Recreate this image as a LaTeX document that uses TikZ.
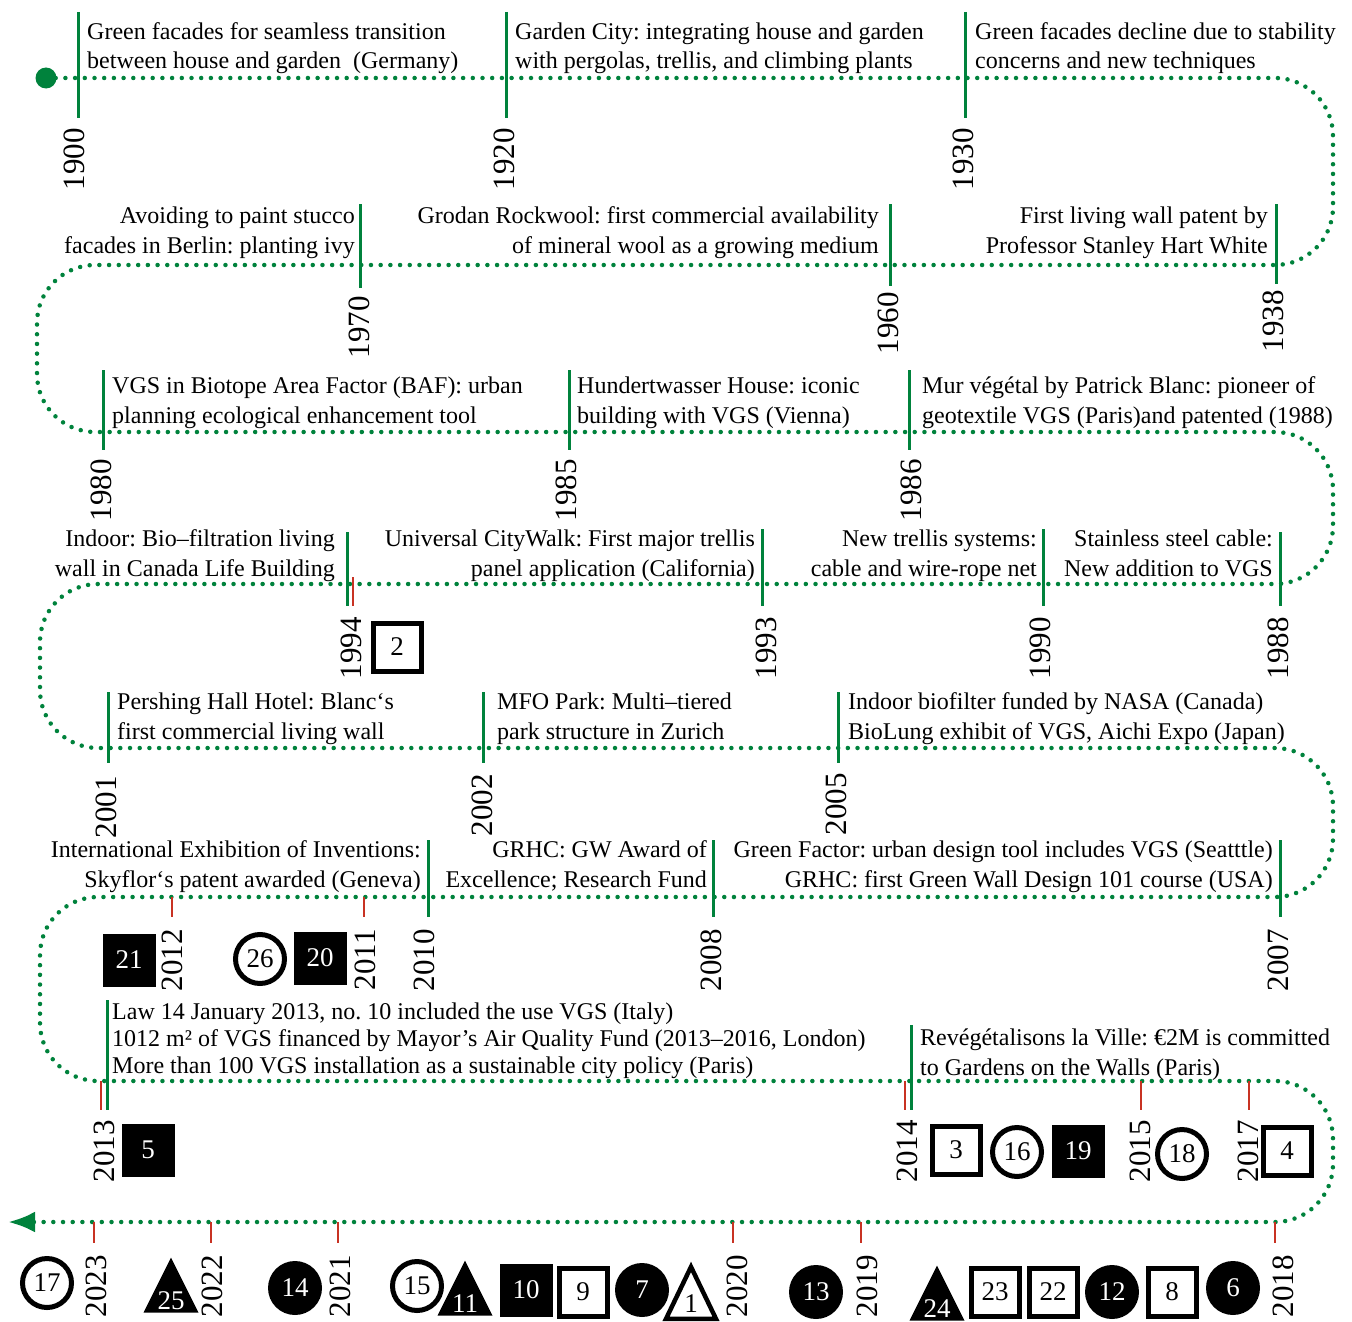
\documentclass[tikz,border=0pt]{standalone}
\usepackage{fontspec}
\setmainfont{Liberation Serif}
\usetikzlibrary{arrows.meta, shapes.geometric}

\definecolor{vgsgreen}{RGB}{0,130,60}
\definecolor{tickred}{RGB}{200,50,35}

\begin{document}
\frenchspacing
\begin{tikzpicture}[
            x = 1pt, y = -1pt, % pixel grid, y runs downwards
            > = {Latex[length=27pt, width=21pt]}, % arrow head style
            inner sep = 0pt
        ]

        \tikzstyle{dots}=[
            vgsgreen,
            line width = 4.5pt,
            line cap = round,
            dash pattern = on 0pt off 9.7pt,
            rounded corners = 58pt
        ]
        \tikzstyle{gtick}=[vgsgreen, line width = 3pt]
        \tikzstyle{rtick}=[tickred, line width = 2.5pt]
        \tikzstyle{yearlab}=[rotate = 90, anchor = east, font = \fontsize{31}{31}\selectfont]
        % base of a text block = base line of its last line
        \tikzstyle{evR}=[anchor = base west, align = left, font = \fontsize{24}{29.5}\selectfont]
        \tikzstyle{evL}=[anchor = base east, align = right, font = \fontsize{24}{29.5}\selectfont]
        \tikzstyle{num}=[font = \fontsize{27}{27}\selectfont]
        \tikzstyle{sqbox}=[num, draw, line width = 5pt, minimum size = 48pt]
        \tikzstyle{fsqbox}=[num, fill, text = white, minimum size = 53pt]
        \tikzstyle{ring}=[num, circle, draw, line width = 5pt, minimum size = 49pt]
        \tikzstyle{disc}=[num, circle, fill, text = white, minimum size = 54pt]
        \tikzstyle{ftri}=[num, isosceles triangle, shape border rotate = 90,
            isosceles triangle stretches, fill, text = white,
            minimum width = 55pt, minimum height = 55pt, anchor = apex]
        \tikzstyle{tri}=[num, isosceles triangle, shape border rotate = 90,
            isosceles triangle stretches, draw, line width = 4.5pt,
            minimum width = 50pt, minimum height = 52pt, anchor = apex]

        \useasboundingbox (0,0) rectangle (1352,1322);

        % the winding time line
        \node[circle, fill = vgsgreen, minimum size = 21pt] (start) at (46,78) {};
        \coordinate (tip) at (8,1222);
        \draw[dots, ->] (start.center) -- (1333,78) -- (1333,265) -- (37,265)
            -- (37,432) -- (1333,432) -- (1333,584) -- (40,584) -- (40,748)
            -- (1333,748) -- (1333,897) -- (40,897) -- (40,1081) -- (1333,1081)
            -- (1333,1222) -- (tip);

        % green ticks with an event
        \foreach \x/\ya/\yb in {78/12/118, 506/12/118, 965/12/118,
                360/204/288, 890/204/286, 1276/204/284,
                103/370/450, 569/370/450, 909/370/450,
                347/532/606, 762/529/606, 1043/529/606, 1280/532/606,
                108/692/763, 483/692/763, 838/692/763,
                428/840/917, 713/840/917, 1280/840/917,
                107/1000/1110, 911/1025/1110}
            \draw[gtick] (\x,\ya) -- (\x,\yb);

        % red ticks for the numbered projects
        \foreach \x/\ya/\yb in {353/577/606, 172/897/917, 364/897/917,
                101/1081/1110, 905/1081/1110, 1141/1081/1110, 1249/1081/1110,
                94/1222/1243, 211/1222/1243, 338/1222/1243, 733/1222/1243,
                861/1222/1243, 1275/1222/1243}
            \draw[rtick] (\x,\ya) -- (\x,\yb);

        % years
        \foreach \yr/\x/\y in {1900/74/128, 1920/504/128, 1930/963/128,
                1970/359/296, 1960/888/292, 1938/1273/290,
                1980/101/459, 1985/566/459, 1986/911/459,
                1994/351/617, 1993/766/617, 1990/1040/617, 1988/1278/617,
                2001/106/776, 2002/482/774, 2005/836/773,
                2012/172/929, 2011/365/929, 2010/424/929, 2008/711/929, 2007/1278/929,
                2013/104/1120, 2014/907/1120, 2015/1140/1120, 2017/1248/1120,
                2023/96/1255, 2022/212/1255, 2021/340/1255, 2020/737/1255,
                2019/867/1255, 2018/1283/1255}
            \node[yearlab] (y\yr) at (\x,\y) {\yr};

        % events
        \node[evR] (e1900) at (87,69) {Green facades for seamless transition\\between house and garden~ (Germany)};
        \node[evR] (e1920) at (515,69) {Garden City: integrating house and garden\\with pergolas, trellis, and climbing plants};
        \node[evR] (e1930) at (975,69) {Green facades decline due to stability\\concerns and new techniques};

        \node[evL] (e1970) at (355,253) {Avoiding to paint stucco\\facades in Berlin: planting ivy};
        \node[evL] (e1960) at (879,253) {Grodan Rockwool: first commercial availability\\of mineral wool as a growing medium};
        \node[evL] (e1938) at (1268,253) {First living wall patent by\\Professor Stanley Hart White};

        \node[evR] (e1980) at (112,423) {VGS in Biotope Area Factor (BAF): urban\\planning ecological enhancement tool};
        \node[evR] (e1985) at (577,423) {Hundertwasser House: iconic\\building with VGS (Vienna)};
        \node[evR] (e1986) at (922,423) {Mur végétal by Patrick Blanc: pioneer of\\geotextile VGS (Paris)and patented (1988)};

        \node[evL] (e1994) at (335,576) {Indoor: Bio–filtration living\\wall in Canada Life Building};
        \node[evL] (e1993) at (755,576) {Universal CityWalk: First major trellis\\panel application (California)};
        \node[evL] (e1990) at (1037,576) {New trellis systems:\\cable and wire-rope net};
        \node[evL] (e1988) at (1273,576) {Stainless steel cable:\\New addition to VGS};

        \node[evR] (e2001) at (117,739) {Pershing Hall Hotel: Blanc‘s\\first commercial living wall};
        \node[evR] (e2002) at (497,739) {MFO Park: Multi–tiered\\park structure in Zurich};
        \node[evR] (e2005) at (848,739) {Indoor biofilter funded by NASA (Canada)\\BioLung exhibit of VGS, Aichi Expo (Japan)};

        \node[evL] (e2010) at (421,887) {International Exhibition of Inventions:\\Skyflor‘s patent awarded (Geneva)};
        \node[evL] (e2008) at (707,887) {GRHC: GW Award of\\Excellence; Research Fund};
        \node[evL] (e2007) at (1273,887) {Green Factor: urban design tool includes VGS (Seatttle)\\GRHC: first Green Wall Design 101 course (USA)};

        \node[evR, font = \fontsize{24}{27}\selectfont] (e2013) at (112,1073) {Law 14 January 2013, no. 10 included the use VGS (Italy)\\1012 m² of VGS financed by Mayor’s Air Quality Fund (2013–2016, London)\\More than 100 VGS installation as a sustainable city policy (Paris)};
        \node[evR] (e2014) at (920,1075) {Revégétalisons la Ville: €2M is committed\\to Gardens on the Walls (Paris)};

        % numbered projects
        \node[sqbox] (m2) at (397,647) {2};
        \node[fsqbox] (m21) at (129,960) {21};
        \node[ring] (m26) at (260,959) {26};
        \node[fsqbox] (m20) at (320,958) {20};
        \node[fsqbox] (m5) at (148,1150) {5};
        \node[sqbox] (m3) at (956,1150) {3};
        \node[ring] (m16) at (1017,1152) {16};
        \node[fsqbox] (m19) at (1078,1151) {19};
        \node[ring] (m18) at (1182,1154) {18};
        \node[sqbox] (m4) at (1287,1151) {4};
        \node[ring] (m17) at (47,1283) {17};
        \node[ftri] (m25) at (171,1257) {25};
        \node[disc] (m14) at (295,1288) {14};
        \node[ring] (m15) at (417,1286) {15};
        \node[ftri] (m11) at (465,1260) {11};
        \node[fsqbox] (m10) at (526,1290) {10};
        \node[sqbox] (m9) at (583,1292) {9};
        \node[disc] (m7) at (642,1290) {7};
        \node[tri] (m1) at (691,1261) {1};
        \node[disc] (m13) at (816,1292) {13};
        \node[ftri] (m24) at (937,1265) {24};
        \node[sqbox] (m23) at (995,1292) {23};
        \node[sqbox] (m22) at (1053,1292) {22};
        \node[disc] (m12) at (1112,1292) {12};
        \node[sqbox] (m8) at (1172,1292) {8};
        \node[disc] (m6) at (1233,1288) {6};

  \end{tikzpicture}
\end{document}
